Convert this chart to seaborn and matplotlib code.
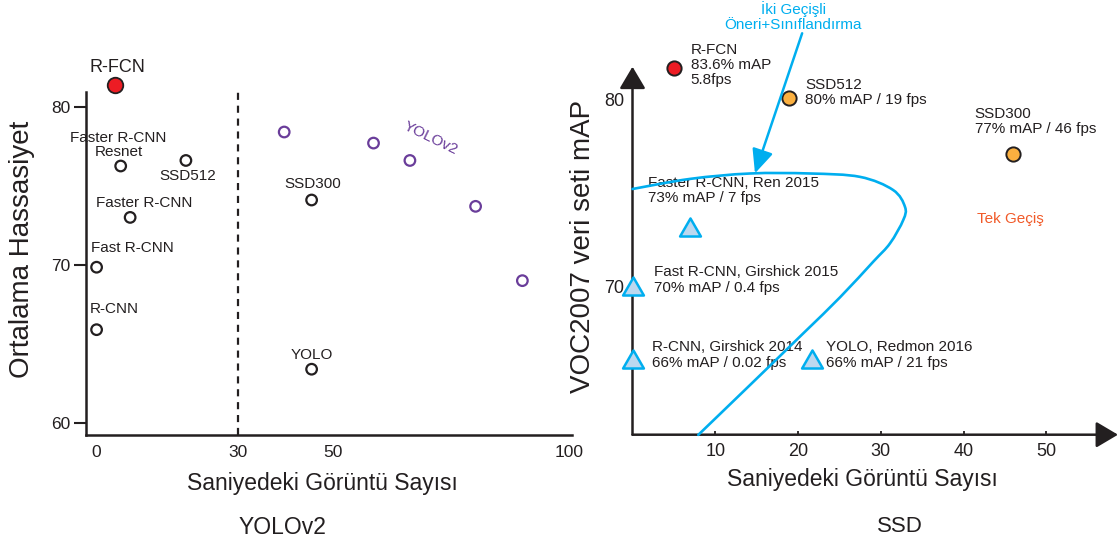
import numpy as np
import pandas as pd
import matplotlib
matplotlib.use("Agg")
import matplotlib.pyplot as plt
from matplotlib.path import Path
from matplotlib.patches import PathPatch
import seaborn as sns

# ---------------- data ----------------
# Left panel: YOLOv2 comparison
left_models = ["R-FCN", "Faster R-CNN Resnet", "SSD512", "Faster R-CNN",
               "Fast R-CNN", "R-CNN", "SSD300", "YOLO"]
left_fps = [3.9, 5.1, 18.9, 7.1, 0.0, 0.0, 45.5, 45.5]
left_map = [81.4, 76.25, 76.6, 73.0, 69.85, 65.9, 74.1, 63.4]
yolov2_fps = [39.7, 58.6, 66.3, 80.2, 90.1]
yolov2_map = [78.4, 77.7, 76.6, 73.7, 69.0]
left_xticks = [0, 30, 50, 100]
left_yticks = [60, 70, 80]

# Right panel: SSD comparison
right_models = ["R-FCN", "SSD512", "SSD300", "Faster R-CNN",
                "Fast R-CNN", "R-CNN", "YOLO"]
right_fps = [5.0, 18.9, 46.0, 6.9, 0.0, 0.0, 21.7]
right_map = [81.7, 80.1, 77.1, 73.05, 69.9, 65.95, 65.95]
right_kind = ["rfcn", "single", "single", "two", "two", "two", "two"]
right_labels = ["R-FCN\n83.6% mAP\n5.8fps",
                "SSD512\n80% mAP / 19 fps",
                "SSD300\n77% mAP / 46 fps",
                "Faster R-CNN, Ren 2015\n73% mAP / 7 fps",
                "Fast R-CNN, Girshick 2015\n70% mAP / 0.4 fps",
                "R-CNN, Girshick 2014\n66% mAP / 0.02 fps",
                "YOLO, Redmon 2016\n66% mAP / 21 fps"]
right_xticks = [10, 20, 30, 40, 50]
right_yticks = [70, 80]

# boundary curve of the two-stage region (anchor points)
curve_x = [0.0, 6.95, 14.2, 21.45, 27.49, 31.48, 32.93, 32.72, 31.12,
           29.10, 25.08, 20.64, 14.20, 7.95]
curve_y = [75.23, 75.77, 76.06, 76.06, 75.88, 75.18, 74.27, 73.57, 72.32,
           71.34, 69.43, 67.50, 64.73, 62.06]

# ---------------- style ----------------
TXT = "#231f20"
RED = "#ed1c24"
ORANGE = "#fbb040"
CYAN = "#00aeef"
TRI_FILL = "#bcd8ef"
PURPLE = "#6a3d9a"
TEK = "#f15a29"

sns.set_theme(style="white")
plt.rcParams["font.family"] = ["Liberation Sans", "DejaVu Sans"]
plt.rcParams["text.color"] = TXT
plt.rcParams["axes.labelcolor"] = TXT
plt.rcParams["xtick.color"] = TXT
plt.rcParams["ytick.color"] = TXT

W, H = 1119, 544
fig = plt.figure(figsize=(W / 100, H / 100), dpi=100)

def fig_rect(x0, x1, ytop, ybot):
    return [x0 / W, 1 - ybot / H, (x1 - x0) / W, (ybot - ytop) / H]

# ================= LEFT PANEL =================
axL = fig.add_axes(fig_rect(86, 572, 92, 435))
left_df = pd.DataFrame({"fps": left_fps, "map": left_map, "model": left_models})
others = left_df[left_df.model != "R-FCN"]
rfcn = left_df[left_df.model == "R-FCN"]
sns.scatterplot(data=others, x="fps", y="map", ax=axL, marker="o", s=58,
                facecolors="none", edgecolor=TXT, linewidth=1.6, zorder=3,
                clip_on=False, legend=False)
sns.scatterplot(data=rfcn, x="fps", y="map", ax=axL, marker="o", s=125,
                color=RED, edgecolor=TXT, linewidth=1.3, zorder=3,
                clip_on=False, legend=False)
y2_df = pd.DataFrame({"fps": yolov2_fps, "map": yolov2_map})
sns.scatterplot(data=y2_df, x="fps", y="map", ax=axL, marker="o", s=58,
                facecolors="none", edgecolor=PURPLE, linewidth=1.6, zorder=3,
                clip_on=False, legend=False)

axL.axvline(30, color=TXT, lw=1.6, ls=(0, (3.2, 2.6)), zorder=1)

axL.set_xlim(-2.24, 100.6)
axL.set_ylim(59.24, 80.93)
axL.set_xticks(left_xticks)
axL.set_yticks(left_yticks)
axL.tick_params(axis="x", length=0, pad=7, labelsize=12.5)
axL.tick_params(axis="y", length=8.5, width=1.5, pad=3, labelsize=12.5,
                direction="out", left=True)
for s in ["top", "right"]:
    axL.spines[s].set_visible(False)
for s in ["left", "bottom"]:
    axL.spines[s].set_linewidth(1.8)
    axL.spines[s].set_color(TXT)
axL.set_ylabel("Ortalama Hassasiyet", fontsize=20, va="center")
axL.yaxis.set_label_coords(-0.1317, 0.542)
axL.set_xlabel("Saniyedeki Görüntü Sayısı", fontsize=16.5, va="center")
axL.xaxis.set_label_coords(0.487, -0.140)

# left labels: (text, model index, offset px, fontsize)
left_annots = [
    ("R-FCN", 0, (2, 17), 13),
    ("Faster R-CNN", 1, (-2.7, 28), 11),
    ("Resnet", 1, (-2.2, 14), 11),
    ("SSD512", 2, (1.8, -16), 11),
    ("Faster R-CNN", 3, (14, 14.7), 11),
    ("Fast R-CNN", 4, (35.5, 19.6), 11),
    ("R-CNN", 5, (18, 20.3), 11),
    ("SSD300", 6, (1, 16), 11),
    ("YOLO", 7, (0, 14.7), 11),
]
for txt, i, off, fs in left_annots:
    axL.annotate(txt, (left_fps[i], left_map[i]), xytext=off,
                 textcoords="offset pixels", ha="center", va="center",
                 fontsize=fs, annotation_clip=False)
axL.text(70.6, 78.02, "YOLOv2", color=PURPLE, fontsize=11, rotation=-26,
         ha="center", va="center", rotation_mode="anchor")

fig.text(282 / W, 1 - 527 / H, "YOLOv2", fontsize=16.5, ha="center", va="center")

# ================= RIGHT PANEL =================
axR = fig.add_axes(fig_rect(632.5, 1118, 66.7, 434.7))
right_df = pd.DataFrame({"fps": right_fps, "map": right_map, "kind": right_kind})
tri = Path([(0, 1), (-0.866, -0.5), (0.866, -0.5), (0, 1)],
           [Path.MOVETO, Path.LINETO, Path.LINETO, Path.CLOSEPOLY])
sns.scatterplot(data=right_df[right_df.kind == "two"], x="fps", y="map", ax=axR,
                marker=tri, s=300, color=TRI_FILL, edgecolor=CYAN, linewidth=1.8,
                zorder=4, clip_on=False, legend=False)
sns.scatterplot(data=right_df[right_df.kind == "single"], x="fps", y="map", ax=axR,
                marker="o", s=105, color=ORANGE, edgecolor=TXT, linewidth=1.4,
                zorder=4, clip_on=False, legend=False)
sns.scatterplot(data=right_df[right_df.kind == "rfcn"], x="fps", y="map", ax=axR,
                marker="o", s=105, color=RED, edgecolor=TXT, linewidth=1.4,
                zorder=4, clip_on=False, legend=False)

axR.set_xlim(0, 58.67)
axR.set_ylim(62.07, 81.78)
axR.set_xticks(right_xticks)
axR.set_yticks(right_yticks)
axR.tick_params(axis="x", direction="in", length=3, width=1.3, pad=6,
                labelsize=13, bottom=True)
axR.tick_params(axis="y", length=0, pad=6, labelsize=13)
for s in axR.spines.values():
    s.set_visible(False)

# axis arrows
for end in [(1, 0), (0, 1)]:
    axR.annotate("", xy=end, xytext=(0, 0), xycoords="axes fraction",
                 textcoords="axes fraction",
                 arrowprops=dict(arrowstyle="-|>,head_length=1.35,head_width=0.8",
                                 color=TXT, lw=1.8, shrinkA=0, shrinkB=0,
                                 mutation_scale=10), zorder=2)

axR.set_ylabel("VOC2007 veri seti mAP", fontsize=20, va="center")
axR.yaxis.set_label_coords((583 - 632.5) / 485.5, 1 - (246.5 - 66.7) / 368)
axR.set_xlabel("Saniyedeki Görüntü Sayısı", fontsize=16.5, va="center")
axR.xaxis.set_label_coords((862 - 632.5) / 485.5, 1 - (479.3 - 66.7) / 368)

right_offsets = [(16.7, 3.4), (16.1, 5.5), (-38.6, 32.7), (-41.3, 39),
                 (21.6, 8.5), (19.3, 7.3), (14.3, 7.3)]
for i, lab in enumerate(right_labels):
    axR.annotate(lab, (right_fps[i], right_map[i]), xytext=right_offsets[i],
                 textcoords="offset pixels", ha="left", va="center",
                 fontsize=11, linespacing=1.1, annotation_clip=False, zorder=3)

axR.text(45.7, 73.61, "Tek Geçiş", color=TEK, fontsize=11, ha="center", va="center")
axR.text(19.4, 84.46, "İki Geçişli\nÖneri+Sınıflandırma", color=CYAN, fontsize=11,
         ha="center", va="center", linespacing=1.05, clip_on=False)

# smooth boundary curve (Catmull-Rom through anchors -> cubic Bezier)
P = np.column_stack([curve_x, curve_y])
verts = [tuple(P[0])]
codes = [Path.MOVETO]
n = len(P)
for i in range(n - 1):
    p0 = P[i - 1] if i > 0 else P[i]
    p1, p2 = P[i], P[i + 1]
    p3 = P[i + 2] if i + 2 < n else P[i + 1]
    c1 = p1 + (p2 - p0) / 6.0
    c2 = p2 - (p3 - p1) / 6.0
    verts += [tuple(c1), tuple(c2), tuple(p2)]
    codes += [Path.CURVE4] * 3
axR.add_patch(PathPatch(Path(verts, codes), fill=False, edgecolor=CYAN,
                        lw=1.9, zorder=5, clip_on=False, capstyle="round",
                        joinstyle="round"))

# pointer arrow from the two-stage label to the curve
axR.annotate("", xy=(14.8, 76.07), xytext=(20.5, 83.57),
             arrowprops=dict(arrowstyle="-|>,head_length=1.45,head_width=0.65",
                             color=CYAN, lw=1.8, shrinkA=0, shrinkB=0,
                             mutation_scale=10),
             annotation_clip=False, zorder=6)

fig.text(900 / W, 1 - 526.7 / H, "SSD", fontsize=16, ha="center", va="center")

fig.savefig("out.png", dpi=100)
